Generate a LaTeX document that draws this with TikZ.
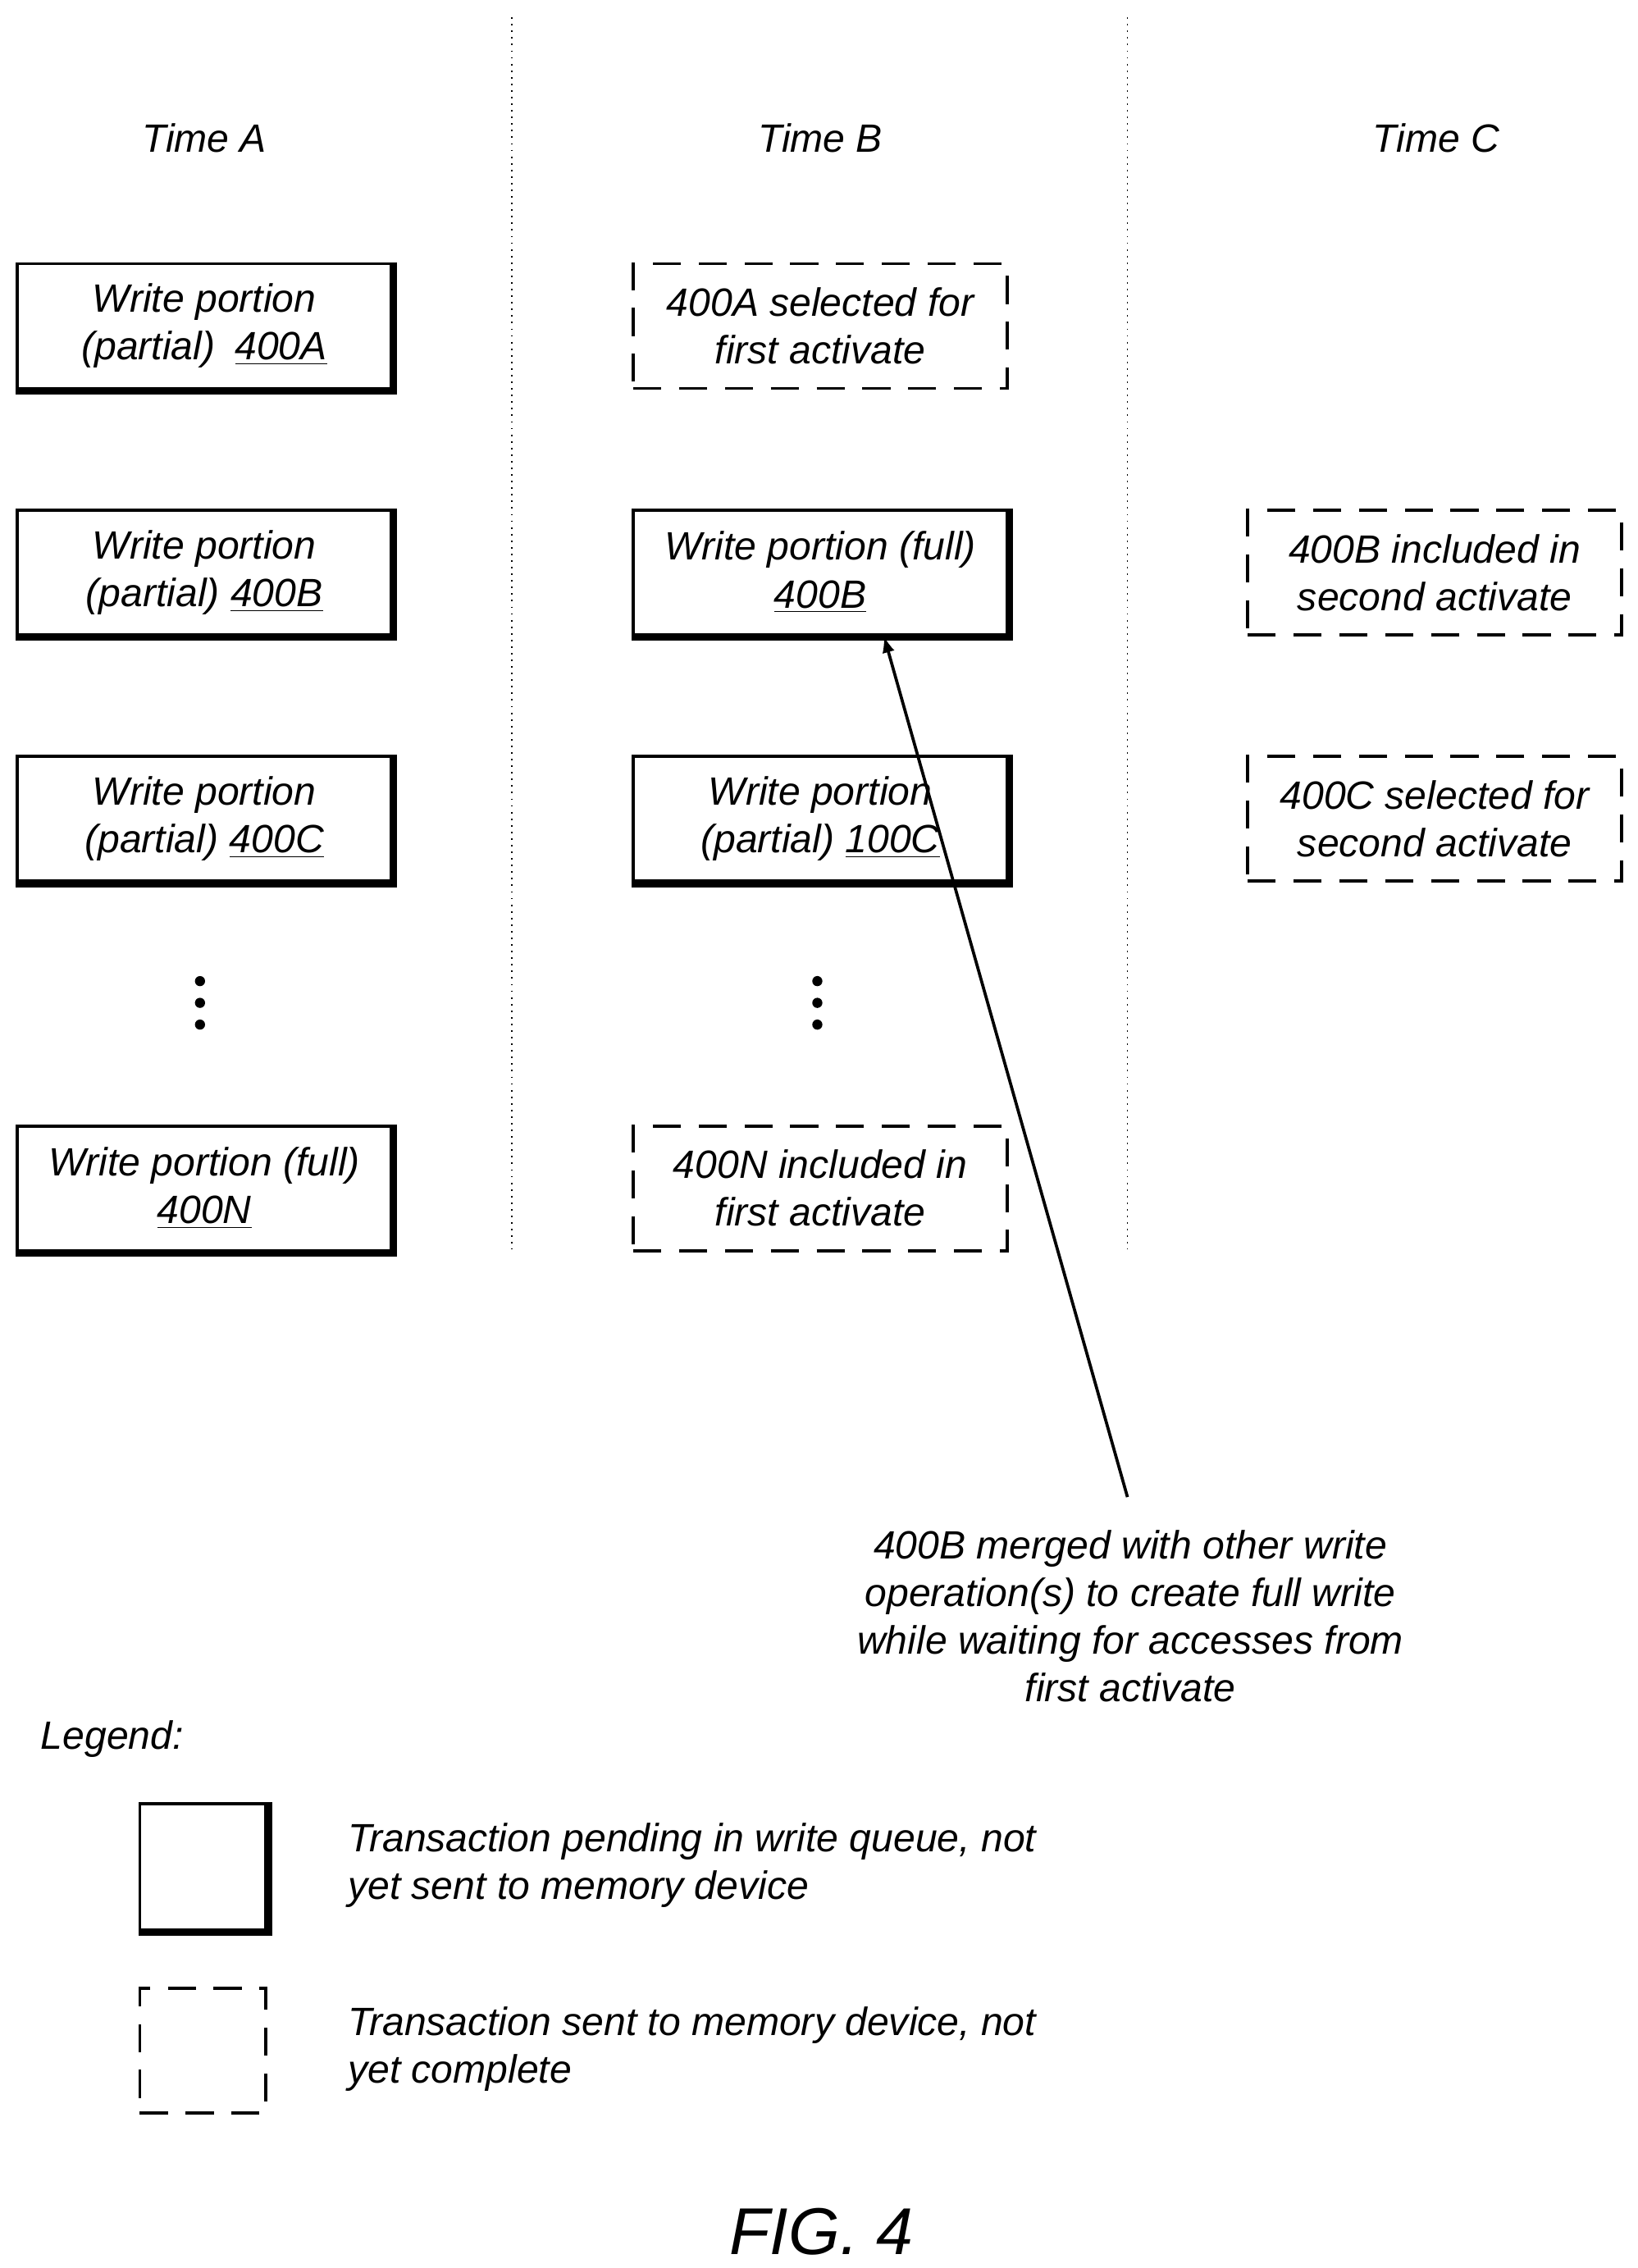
\documentclass[tikz,border=0pt]{standalone}
\usepackage{fontspec}
\setmainfont{Liberation Sans}
\begin{document}
\begin{tikzpicture}[x=0.02cm,y=-0.02cm,
  txt/.style={font=\itshape\fontsize{15.5}{18.7}\selectfont,align=center},
  solidbox/.style={draw,line width=1.2pt,minimum width=258*0.02cm,minimum height=86*0.02cm,txt},
  dashbox/.style={draw,line width=1.2pt,dash pattern=on 11pt off 7pt,minimum width=258*0.02cm,minimum height=86*0.02cm,txt},
  sep/.style={dotted,line width=0.6pt}]
\useasboundingbox (0,0) rectangle (1130,1565);
\tikzset{shadowbox/.code 2 args={}}
% titles
\node[txt] (ta) at (141,95) {Time A};
\node[txt] (tb) at (566,95) {Time B};
\node[txt] (tc) at (991,95) {Time C};
\coordinate (s1t) at (353,12); \coordinate (s1b) at (353,862);
\coordinate (s2t) at (778,12); \coordinate (s2b) at (778,862);
\draw[sep] (s1t) -- (s1b);
\draw[sep] (s2t) -- (s2b);
% column A
\node[solidbox] (a1) at (141,225) {Write portion\\(partial)\enspace\underline{400A}};
\node[solidbox] (a2) at (141,395) {Write portion\\(partial) \underline{400B}};
\node[solidbox] (a3) at (141,565) {Write portion\\(partial) \underline{400C}};
\node[solidbox] (a4) at (141,820) {Write portion (full)\\\underline{400N}};
% column B
\node[dashbox] (b1) at (566,225) {400A selected for\\first activate};
\node[solidbox] (b2) at (566,395) {Write portion (full)\\\underline{400B}};
\node[solidbox] (b3) at (566,565) {Write portion\\(partial) \underline{100C}};
\node[dashbox] (b4) at (566,820) {400N included in\\first activate};
% column C
\node[dashbox] (c2) at (990,395) {400B included in\\second activate};
\node[dashbox] (c3) at (990,565) {400C selected for\\second activate};
% shadows
\foreach \n in {a1,a2,a3,a4,b2,b3}{
  \draw[line width=2.4pt] ([xshift=0.6pt]\n.north east) -- ([xshift=0.6pt,yshift=-0.6pt]\n.south east) -- ([yshift=-0.6pt]\n.south west);
}
% dots
\foreach \x/\n in {138/da,564/db}{
  \foreach \y in {677,692,707} \fill (\x,\y) circle (3.5);
}
% note + arrow
\node[txt] (note) at (780,1115) {400B merged with other write\\operation(s) to create full write\\while waiting for accesses from\\first activate};
\coordinate (ns) at (778,1033);
\draw[line width=1.2pt,-latex] (ns) -- (b2.south east -| 610,0) ;
% legend
\node[txt,anchor=west] (leg) at (22,1200) {Legend:};
\node[solidbox,minimum width=87*0.02cm,minimum height=87*0.02cm] (l1) at (140,1288) {};
\draw[line width=2.4pt] ([xshift=0.6pt]l1.north east) -- ([xshift=0.6pt,yshift=-0.6pt]l1.south east) -- ([yshift=-0.6pt]l1.south west);
\node[dashbox,minimum width=87*0.02cm,minimum height=86*0.02cm] (l2) at (140,1415) {};
\node[txt,align=left,anchor=west] (lt1) at (234,1287) {Transaction pending in write queue, not\\yet sent to memory device};
\node[txt,align=left,anchor=west] (lt2) at (234,1414) {Transaction sent to memory device, not\\yet complete};
\node[font=\itshape\fontsize{26}{30}\selectfont] (fig) at (567,1540) {FIG. 4};
\end{tikzpicture}
\end{document}
